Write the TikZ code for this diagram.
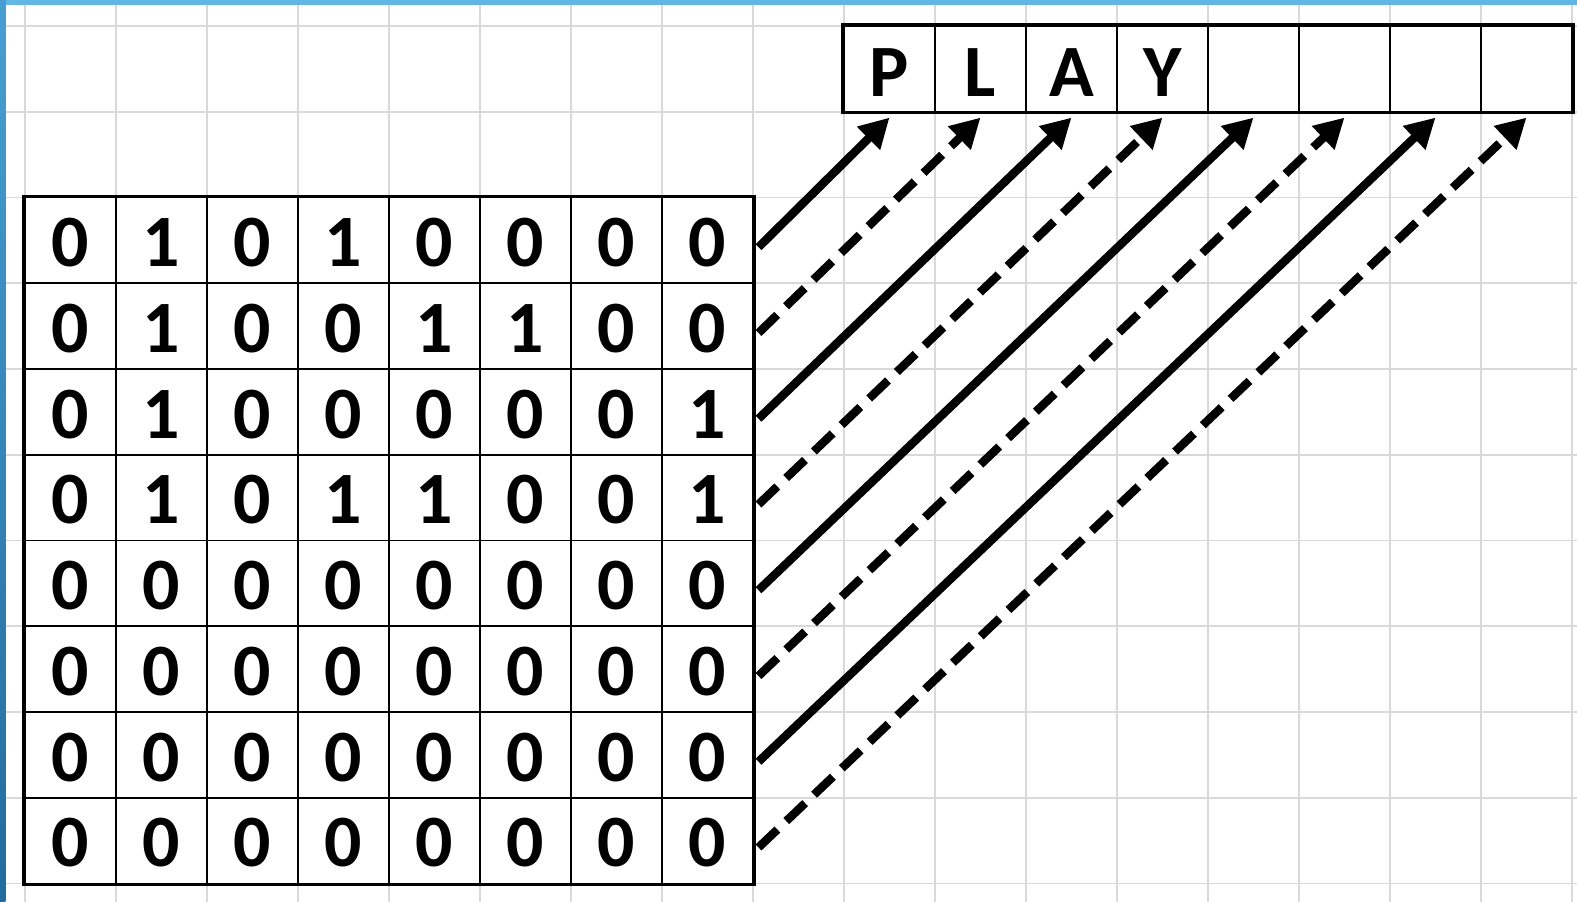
\documentclass[tikz,border=0pt]{standalone}
\usepackage{fontspec}
\setmainfont{Carlito}
\usetikzlibrary{arrows.meta}
\definecolor{gridcol}{RGB}{217,217,217}
\definecolor{framelt}{RGB}{98,183,228}
\definecolor{framemd}{RGB}{72,158,210}
\definecolor{framedk}{RGB}{34,108,158}
\newcommand\bitfont{\fontsize{21}{25}\selectfont\bfseries}

\begin{document}
\begin{tikzpicture}[x=0.91cm,y=0.8575cm,
  >={Triangle[length=8.4pt,width=8.8pt]},
  bitcell/.style={draw,line width=0.55pt,minimum width=0.91cm,minimum height=0.8575cm,
                  inner sep=0pt,text height=15pt,text depth=0pt,font=\bitfont},
  charcell/.style={bitcell,text height=16pt},
  link/.style={->,line width=2.4pt},
  dlink/.style={link,dash pattern=on 7.4pt off 3.5pt},
]

  % --- sheet and frame ---
  \useasboundingbox (-0.2747,-0.2157) rectangle (17.055,10.303);
  \fill[white] (-0.2747,-0.2157) rectangle (17.055,10.303);
  \foreach \gx in {0,...,17}
    \draw[gridcol,line width=0.55pt] (\gx,-0.2157) -- (\gx,10.245);
  \foreach \gy in {0,...,10}
    \draw[gridcol,line width=0.55pt] (-0.22,\gy) -- (17.055,\gy);
  \fill[framelt] (-0.2747,10.245) rectangle (17.055,10.303);
  \shade[top color=framemd,bottom color=framedk] (-0.2747,-0.2157) rectangle (-0.215,10.303);

  % --- bit matrix ---
  \foreach \bits [count=\r] in {{0,1,0,1,0,0,0,0},{0,1,0,0,1,1,0,0},{0,1,0,0,0,0,0,1},
      {0,1,0,1,1,0,0,1},{0,0,0,0,0,0,0,0},{0,0,0,0,0,0,0,0},{0,0,0,0,0,0,0,0},{0,0,0,0,0,0,0,0}}
    \foreach \b [count=\c] in \bits
      \node[bitcell] (m-\r-\c) at (\c-0.5,8.5-\r) {\b};
  \draw[line width=0.95pt] (m-1-1.north west) rectangle (m-8-8.south east);

  % --- output word ---
  \foreach \ch [count=\i] in {P,L,A,Y,{},{},{},{}}
    \node[charcell] (ch-\i) at (8.5+\i,9.5) {\ch};
  \draw[line width=0.95pt] (ch-1.north west) rectangle (ch-8.south east);

  % --- links ---
  \foreach \i in {1,3,5,7}
    \draw[link] ([shift={(0.05,-0.08)}]m-\i-8.east) -- ([yshift=-1.4pt]ch-\i.south);
  \foreach \i in {2,4,6,8}
    \draw[dlink] ([shift={(0.05,-0.08)}]m-\i-8.east) -- ([yshift=-1.4pt]ch-\i.south);

\end{tikzpicture}
\end{document}
